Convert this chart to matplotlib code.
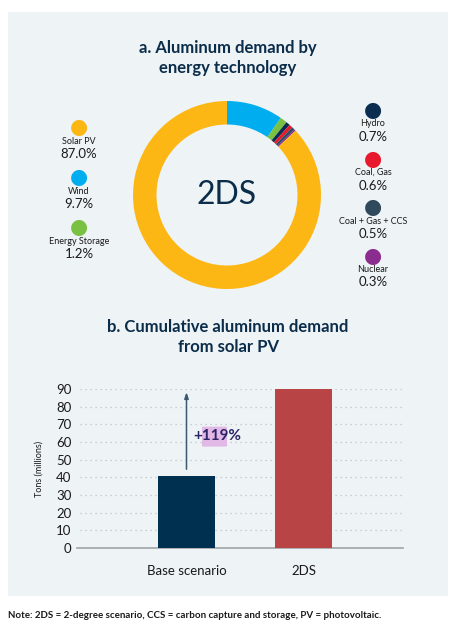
import matplotlib
matplotlib.use("Agg")
import matplotlib.pyplot as plt
from matplotlib.patches import Rectangle, FancyBboxPatch

# ---- data ----
donut_labels = ["Wind", "Energy Storage", "Hydro", "Coal, Gas", "Coal + Gas + CCS", "Nuclear", "Solar PV"]
donut_values = [9.7, 1.2, 0.7, 0.6, 0.5, 0.3, 87.0]
donut_colors = ["#00AEEF", "#7AC143", "#0B2D4F", "#E8192C", "#2E4A5C", "#8B2C8F", "#FDB714"]

left_legend = ["Solar PV", "Wind", "Energy Storage"]
right_legend = ["Hydro", "Coal, Gas", "Coal + Gas + CCS", "Nuclear"]

bar_categories = ["Base scenario", "2DS"]
bar_values = [41.0, 89.8]
bar_colors = ["#00304F", "#B94446"]
yticks = [0, 10, 20, 30, 40, 50, 60, 70, 80, 90]
increase_label = "+119%"

W, H = 457, 633
FONT = "Lato"
NAVY = "#0B2D4A"
BG = "#EEF3F6"

fig = plt.figure(figsize=(W / 100, H / 100), dpi=100)
fig.patch.set_facecolor("white")

def fx(px):
    return px / W

def fy(py):
    return 1 - py / H

# background box
fig.patches.append(Rectangle((fx(8), fy(596)), fx(440), (596 - 12) / H,
                             transform=fig.transFigure, facecolor=BG, edgecolor="none", zorder=-10))

# ---- panel a ----
fig.text(fx(228), fy(48), "a. Aluminum demand by", ha="center", va="center",
         fontsize=12, fontweight="bold", color=NAVY, family=FONT)
fig.text(fx(228), fy(68), "energy technology", ha="center", va="center",
         fontsize=12, fontweight="bold", color=NAVY, family=FONT)

cx, cy, R = 227, 195, 94
axd = fig.add_axes([fx(cx - R), fy(cy + R), 2 * R / W, 2 * R / H])
axd.pie(donut_values, colors=donut_colors, startangle=90, counterclock=False,
        radius=1.0, wedgeprops=dict(width=0.25, edgecolor="none"))
axd.set_xlim(-1, 1)
axd.set_ylim(-1, 1)
axd.set_aspect("auto")
axd.axis("off")
axd.text(0, 0, "2DS", ha="center", va="center", fontsize=23, color=NAVY, family=FONT)

color_of = dict(zip(donut_labels, donut_colors))
value_of = dict(zip(donut_labels, donut_values))

def legend_item(x, y_circle, name):
    fig.text(fx(x), fy(y_circle), "\u25CF", ha="center", va="center", fontsize=15,
             color=color_of[name], family="DejaVu Sans")
    fig.text(fx(x), fy(y_circle + 14), name, ha="center", va="center", fontsize=6.5,
             color="#1a1a1a", family=FONT)
    fig.text(fx(x), fy(y_circle + 27), f"{value_of[name]:.1f}%", ha="center", va="center",
             fontsize=9.5, color="#1a1a1a", family=FONT)

for i, name in enumerate(left_legend):
    legend_item(79, 127 + 50 * i, name)
for i, name in enumerate(right_legend):
    legend_item(373, 110 + 48.5 * i, name)

# ---- panel b ----
fig.text(fx(228), fy(327), "b. Cumulative aluminum demand", ha="center", va="center",
         fontsize=12, fontweight="bold", color=NAVY, family=FONT)
fig.text(fx(228), fy(347), "from solar PV", ha="center", va="center",
         fontsize=12, fontweight="bold", color=NAVY, family=FONT)

ax_l, ax_r, ax_b, ax_t = 77, 403, 548, 389
axb = fig.add_axes([fx(ax_l), fy(ax_b), (ax_r - ax_l) / W, (ax_b - ax_t) / H])
axb.set_facecolor("none")
xs = list(range(len(bar_categories)))
axb.bar(xs, bar_values, width=0.485, color=bar_colors, zorder=3)
axb.set_xlim(-0.932, 1.843)
axb.set_ylim(0, 90)
axb.set_yticks(yticks)
axb.set_yticklabels([str(t) for t in yticks], fontsize=9.5, color="#1a1a1a", family=FONT)
axb.set_xticks(xs)
axb.set_xticklabels(bar_categories, fontsize=9.5, color="#1a1a1a", family=FONT)
axb.tick_params(axis="both", length=0)
axb.tick_params(axis="y", pad=4)
axb.tick_params(axis="x", pad=12)
for s in ["top", "right", "left"]:
    axb.spines[s].set_visible(False)
axb.spines["bottom"].set_color("#A0A4A8")
axb.spines["bottom"].set_linewidth(1.2)
for t in yticks[1:]:
    axb.axhline(t, xmin=0.01, xmax=1, color="#BFC3C7", lw=0.9, ls=(0, (1, 3)), zorder=1)
axb.set_ylabel("Tons (millions)", fontsize=6.5, color="#1a1a1a", family=FONT, labelpad=9)

# arrow from base bar to 2DS level
axb.annotate("", xy=(xs[0], bar_values[1]), xytext=(xs[0], bar_values[0] + 2),
             arrowprops=dict(arrowstyle="-|>,head_length=0.35,head_width=0.12",
                             color="#3E5870", lw=1.1), zorder=4)
mid = (bar_values[0] + bar_values[1]) / 2 - 2.0
axb.add_patch(FancyBboxPatch((0.132, mid - 6.0), 0.213, 11.3,
                             boxstyle="round,pad=0,rounding_size=0.03",
                             mutation_aspect=6, facecolor="#E2B8E6", edgecolor="none", zorder=4))
axb.text(0.26, mid, increase_label, ha="center", va="center", fontsize=11,
         fontweight="bold", color="#2B2466", family=FONT, zorder=5)

# note
fig.text(fx(8), fy(616), "Note: 2DS = 2-degree scenario, CCS = carbon capture and storage, PV = photovoltaic.",
         ha="left", va="center", fontsize=7.0, fontweight="bold", color="#1a1a1a", family=FONT)

fig.savefig("out.png", dpi=100, facecolor="white")
